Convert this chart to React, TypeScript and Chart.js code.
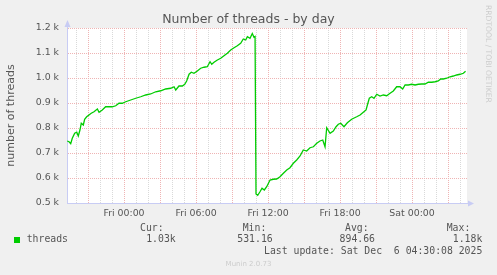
import React, { useEffect, useRef } from 'react';
import { Chart, registerables } from 'chart.js';

Chart.register(...registerables);

// hours relative to Fri 00:00
const hours = [
  -4.73, -4.58, -4.44, -4.31, -4.11, -3.94, -3.81, -3.67, -3.56, -3.39, -3.28, -3.11,
  -2.92, -2.73, -2.5, -2.22, -2.08, -1.81, -1.53, -1.25, -0.98, -0.69, -0.42, -0.14,
  0.14, 0.56, 0.98, 1.39, 1.81, 2.22, 2.64, 3.06, 3.47,
  3.89, 4.17, 4.31, 4.58, 4.86, 5.06, 5.22, 5.42, 5.61, 5.83,
  6.11, 6.39, 6.67, 6.94, 7.17, 7.31, 7.5, 7.78, 8.06, 8.33, 8.61, 8.89, 9.17, 9.44, 9.72, 9.94,
  10.14, 10.28, 10.5, 10.69, 10.83, 10.92,
  11.0, 11.14, 11.33, 11.5, 11.69, 11.89,
  12.17, 12.44, 12.72, 13.0, 13.28, 13.56, 13.83, 14.11, 14.39, 14.67, 14.94, 15.22, 15.5, 15.78, 16.06, 16.33, 16.56, 16.75, 16.89,
  17.17, 17.44, 17.67, 17.86, 18.06, 18.33, 18.61, 18.97, 19.22,
  19.39, 19.67, 19.94, 20.17, 20.28, 20.44, 20.64, 20.83,
  21.06, 21.33, 21.61, 21.89, 22.17, 22.44, 22.72, 23.0, 23.22, 23.42, 23.69, 23.97,
  24.25, 24.53, 24.81, 25.08, 25.36, 25.64, 25.92, 26.19, 26.39, 26.61, 26.89, 27.17, 27.44, 27.72, 28.0, 28.28, 28.46,
];

const threads = [
  748, 745, 737, 759, 779, 783, 768, 792, 819, 812, 835, 845,
  852, 859, 865, 876, 863, 872, 885, 885, 885, 889, 899, 899,
  905, 912, 919, 925, 932, 936, 945, 949, 956,
  959, 965, 952, 968, 968, 975, 988, 1015, 1023, 1019,
  1028, 1039, 1043, 1045, 1065, 1055, 1063, 1072, 1079, 1089, 1099, 1112, 1121, 1129, 1139, 1156,
  1152, 1165, 1159, 1178, 1163, 1166,
  536, 531, 545, 559, 552, 565,
  592, 595, 596, 605, 619, 632, 641, 659, 672, 688, 712, 708, 721, 725, 739, 748, 752, 725, 801,
  779, 788, 805, 815, 819, 805, 821, 835, 841,
  845, 852, 863, 872, 892, 919, 925, 919,
  935, 928, 932, 929, 939, 948, 965, 965, 956, 972, 972, 975,
  972, 975, 976, 976, 983, 983, 985, 988, 996, 996, 999, 1005, 1008, 1012, 1015, 1019, 1027,
];

const xMin = -4.75;
const xMax = 28.58;
const hourTicks = [
  -4, -3, -2, -1, 0, 1, 2, 3, 4, 5, 6, 7, 8, 9, 10, 11, 12, 13, 14, 15, 16,
  17, 18, 19, 20, 21, 22, 23, 24, 25, 26, 27, 28,
];
const xLabelHours = [0, 6, 12, 18, 24];
const xLabelTexts = ['Fri 00:00', 'Fri 06:00', 'Fri 12:00', 'Fri 18:00', 'Sat 00:00'];
const yTicks = [500, 600, 700, 800, 900, 1000, 1100, 1200];

const titleText = 'Number of threads - by day';
const yAxisTitle = 'number of threads';
const seriesName = 'threads';
const statLabels = ['Cur:', 'Min:', 'Avg:', 'Max:'];
const statValues = ['1.03k', '531.16', '894.66', '1.18k'];
const lastUpdate = 'Last update: Sat Dec  6 04:30:08 2025';
const footerText = 'Munin 2.0.73';
const sideText = 'RRDTOOL / TOBI OETIKER';

const GREEN = '#00cc00';
const MAJOR = '#efb4b4';
const MINOR = '#d9d9d9';
const AXIS = '#c8ccf4';
const TEXT = '#555555';

const statLabelLeft = [140, 242.7, 345, 446.7];
const statValueRight = [175.7, 272.7, 375, 482.3];

const bgPlugin = {
  id: 'muninBg',
  beforeDraw(chart: any) {
    const { ctx, chartArea } = chart;
    ctx.save();
    ctx.fillStyle = '#ffffff';
    ctx.fillRect(chartArea.left, chartArea.top, chartArea.right - chartArea.left, chartArea.bottom - chartArea.top);
    ctx.restore();
  },
  afterDraw(chart: any) {
    const { ctx, chartArea } = chart;
    const l = chartArea.left;
    const b = chartArea.bottom;
    ctx.save();
    ctx.strokeStyle = AXIS;
    ctx.lineWidth = 1;
    ctx.beginPath();
    ctx.moveTo(l + 0.5, chartArea.top);
    ctx.lineTo(l + 0.5, chartArea.top - 3);
    ctx.moveTo(chartArea.right, b + 0.5);
    ctx.lineTo(chartArea.right + 3, b + 0.5);
    ctx.stroke();
    ctx.fillStyle = AXIS;
    ctx.beginPath();
    ctx.moveTo(l + 0.5, chartArea.top - 8);
    ctx.lineTo(l - 2.5, chartArea.top - 1);
    ctx.lineTo(l + 3.5, chartArea.top - 1);
    ctx.closePath();
    ctx.fill();
    ctx.beginPath();
    ctx.moveTo(chartArea.right + 7, b + 0.5);
    ctx.lineTo(chartArea.right + 1, b - 2.5);
    ctx.lineTo(chartArea.right + 1, b + 3.5);
    ctx.closePath();
    ctx.fill();
    ctx.restore();
  },
};

export default function App() {
  const canvasRef = useRef<HTMLCanvasElement | null>(null);

  useEffect(() => {
    const canvas = canvasRef.current;
    if (!canvas) return;
    const chart = new Chart(canvas, {
      type: 'line',
      data: {
        datasets: [
          {
            label: seriesName,
            data: hours.map((h, i) => ({ x: h, y: threads[i] })),
            borderColor: GREEN,
            borderWidth: 1.3,
            pointRadius: 0,
            tension: 0,
            fill: false,
          },
        ],
      },
      options: {
        animation: false,
        responsive: false,
        maintainAspectRatio: false,
        layout: { padding: { top: 28, right: 30, bottom: 0, left: 0 } },
        plugins: {
          legend: { display: false },
          tooltip: { enabled: false },
          title: { display: false },
        },
        scales: {
          x: {
            type: 'linear',
            min: xMin,
            max: xMax,
            afterBuildTicks: (s: any) => {
              s.ticks = hourTicks.map((v) => ({ value: v }));
            },
            afterFit: (s: any) => {
              s.height = 72;
            },
            grid: {
              color: (ctx: any) => (ctx.tick && ctx.tick.value % 3 === 0 ? MAJOR : MINOR),
              lineWidth: 1,
              drawTicks: false,
            },
            border: { display: true, color: AXIS, width: 1, dash: [1, 1] },
            ticks: {
              autoSkip: false,
              maxRotation: 0,
              minRotation: 0,
              padding: 5,
              color: TEXT,
              font: { family: 'DejaVu Sans', size: 9.4 },
              callback: (v: any) => {
                const idx = xLabelHours.indexOf(Number(v));
                return idx >= 0 ? xLabelTexts[idx] : '';
              },
            },
          },
          y: {
            type: 'linear',
            min: 500,
            max: 1200,
            afterBuildTicks: (s: any) => {
              s.ticks = yTicks.map((v) => ({ value: v }));
            },
            afterFit: (s: any) => {
              s.width = 67;
            },
            grid: {
              color: (ctx: any) => (ctx.tick && ctx.tick.value === 500 ? 'rgba(0,0,0,0)' : MAJOR),
              lineWidth: 1,
              drawTicks: false,
            },
            border: { display: true, color: AXIS, width: 1, dash: [1, 1] },
            ticks: {
              padding: 8,
              color: TEXT,
              font: { family: 'DejaVu Sans', size: 9.4 },
              callback: (v: any) => (Number(v) / 1000).toFixed(1) + ' k',
            },
            title: {
              display: true,
              text: yAxisTitle,
              color: TEXT,
              font: { family: 'DejaVu Sans', size: 11 },
              padding: { top: 5, bottom: 0 },
            },
          },
        },
      },
      plugins: [bgPlugin],
    } as any);
    return () => chart.destroy();
  }, []);

  const mono = "'DejaVu Sans Mono', monospace";
  const base: React.CSSProperties = { position: 'absolute', lineHeight: 1, whiteSpace: 'pre', margin: 0 };

  return (
    <div style={{ position: 'fixed', left: 0, top: 0, width: 497, height: 275, background: '#f0f0f0', overflow: 'hidden' }}>
      <canvas ref={canvasRef} width={497} height={275} style={{ display: 'block', position: 'absolute', left: 0, top: 0 }} />
      <div style={{ ...base, left: 0, width: 497, top: 13.4, textAlign: 'center', fontFamily: 'DejaVu Sans', fontSize: 12.5, color: TEXT }}>
        {titleText}
      </div>
      <div
        style={{
          ...base,
          left: 491.7,
          top: 5,
          transform: 'rotate(90deg)',
          transformOrigin: '0 0',
          fontFamily: 'DejaVu Sans',
          fontSize: 7.6,
          color: '#cccccc',
        }}
      >
        {sideText}
      </div>
      <div style={{ ...base, left: 14, top: 237, width: 5.5, height: 5.5, background: GREEN }} />
      <div style={{ ...base, left: 26.7, top: 234.4, fontFamily: mono, fontSize: 9.8, color: TEXT }}>{seriesName}</div>
      {statLabels.map((s, i) => (
        <div key={'l' + i} style={{ ...base, left: statLabelLeft[i], top: 223, fontFamily: mono, fontSize: 9.8, color: TEXT }}>
          {s}
        </div>
      ))}
      {statValues.map((s, i) => (
        <div key={'v' + i} style={{ ...base, right: 497 - statValueRight[i], top: 234.4, fontFamily: mono, fontSize: 9.8, color: TEXT }}>
          {s}
        </div>
      ))}
      <div style={{ ...base, right: 497 - 482.3, top: 246, fontFamily: mono, fontSize: 9.8, color: TEXT }}>{lastUpdate}</div>
      <div style={{ ...base, left: 0, width: 497, top: 260.8, textAlign: 'center', fontFamily: 'DejaVu Sans', fontSize: 7, color: '#cccccc' }}>
        {footerText}
      </div>
    </div>
  );
}
